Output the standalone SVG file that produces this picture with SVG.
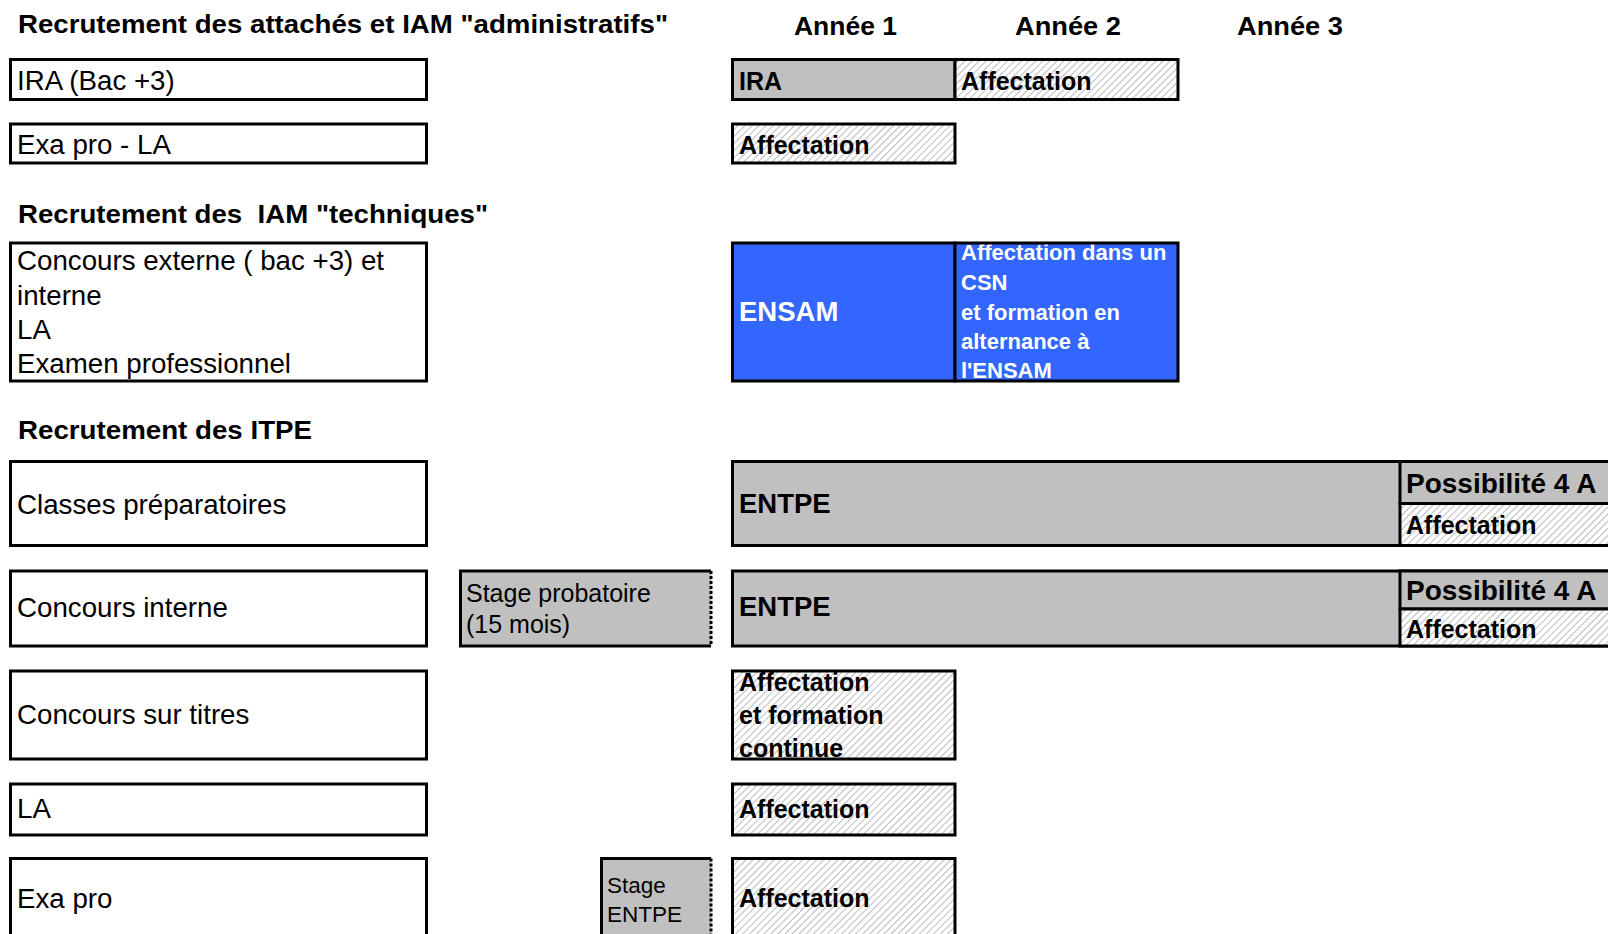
<svg xmlns="http://www.w3.org/2000/svg" width="1608" height="934" viewBox="0 0 1608 934">
<defs>
<pattern id="hatch" width="5" height="5" patternUnits="userSpaceOnUse" patternTransform="rotate(45)">
<rect width="5" height="5" fill="#ffffff"/>
<line x1="0" y1="0" x2="0" y2="5" stroke="#8f8f8f" stroke-width="1.2"/>
</pattern>
<style>
text{font-family:"Liberation Sans",Arial,sans-serif;fill:#000}
.h{font-weight:bold;font-size:25px}
.yr{font-weight:bold;font-size:25px}
.l{font-size:27.7px}
.b{font-weight:bold;font-size:25px}
.bb{font-weight:bold;font-size:27.5px}
.pp{font-weight:bold;font-size:28px}
.w{fill:#fff;font-weight:bold}
.box{fill:#fff;stroke:#000;stroke-width:3}
.gray{fill:#c0c0c0;stroke:#000;stroke-width:3}
.hat{fill:url(#hatch);stroke:#000;stroke-width:3}
.blue{fill:#3366ff;stroke:#000;stroke-width:3}
.edge{fill:none;stroke:#000;stroke-width:3}
.dot{fill:none;stroke:#000;stroke-width:3;stroke-dasharray:3 2}
.s{font-size:25px}
.s2{font-size:22.5px}
</style>
</defs>
<rect width="1608" height="934" fill="#fff"/>

<g id="headers">
<text class="h" x="18" y="33" textLength="650" lengthAdjust="spacingAndGlyphs">Recrutement des attachés et IAM "administratifs"</text>
<text class="h" x="18" y="223" textLength="470" lengthAdjust="spacingAndGlyphs" xml:space="preserve">Recrutement des  IAM "techniques"</text>
<text class="h" x="18" y="439" textLength="294" lengthAdjust="spacingAndGlyphs">Recrutement des ITPE</text>
<text class="yr" x="794" y="35" textLength="103" lengthAdjust="spacingAndGlyphs">Année 1</text>
<text class="yr" x="1015" y="35" textLength="106" lengthAdjust="spacingAndGlyphs">Année 2</text>
<text class="yr" x="1237" y="35" textLength="106" lengthAdjust="spacingAndGlyphs">Année 3</text>
</g>

<!-- Left column -->
<g id="n-ira-bac"><rect class="box" x="10.5" y="59.5" width="416" height="40"/><text class="l" x="17" y="90">IRA (Bac +3)</text></g>
<g id="n-exapro-la"><rect class="box" x="10.5" y="124" width="416" height="39"/><text class="l" x="17" y="154">Exa pro - LA</text></g>
<g id="n-concours-ext"><rect class="box" x="10.5" y="243" width="416" height="138"/>
<text class="l" x="17" y="270">Concours externe ( bac +3) et</text>
<text class="l" x="17" y="304.5">interne</text>
<text class="l" x="17" y="339">LA</text>
<text class="l" x="17" y="373">Examen professionnel</text></g>
<g id="n-classes-prep"><rect class="box" x="10.5" y="461.5" width="416" height="84"/><text class="l" x="17" y="514">Classes préparatoires</text></g>
<g id="n-concours-int"><rect class="box" x="10.5" y="571" width="416" height="75"/><text class="l" x="17" y="617">Concours interne</text></g>
<g id="n-concours-titres"><rect class="box" x="10.5" y="671" width="416" height="88"/><text class="l" x="17" y="724">Concours sur titres</text></g>
<g id="n-la"><rect class="box" x="10.5" y="784" width="416" height="51"/><text class="l" x="17" y="818">LA</text></g>
<g id="n-exapro"><rect class="box" x="10.5" y="858.5" width="416" height="90"/><text class="l" x="17" y="908">Exa pro</text></g>

<!-- Stage boxes -->
<g id="n-stage-prob">
<rect x="460.5" y="571" width="251" height="75" fill="#c0c0c0"/>
<path class="edge" d="M711,571 H460.5 V646 H711"/>
<line class="dot" x1="711" y1="571" x2="711" y2="646"/>
<text class="s" x="466" y="602">Stage probatoire</text>
<text class="s" x="466" y="633">(15 mois)</text>
</g>
<g id="n-stage-entpe">
<rect x="601.5" y="858.5" width="110" height="90" fill="#c0c0c0"/>
<path class="edge" d="M711,858.5 H601.5 V940"/>
<line class="dot" x1="711" y1="858.5" x2="711" y2="940"/>
<text class="s2" x="607" y="893">Stage</text>
<text class="s2" x="607" y="922">ENTPE</text>
</g>

<!-- Right column -->
<g id="n-ira">
<rect class="gray" x="732.5" y="59.5" width="222.5" height="40"/>
<text class="b" x="739" y="90">IRA</text>
</g>
<g id="n-ira-affect">
<rect class="hat" x="955" y="59.5" width="223" height="40"/>
<text class="b" x="961" y="90">Affectation</text>
</g>
<g id="n-exapro-la-affect">
<rect class="hat" x="732.5" y="124" width="222.5" height="39"/>
<text class="b" x="739" y="154">Affectation</text>
</g>
<g id="n-ensam">
<rect class="blue" x="732.5" y="243" width="222.5" height="138"/>
<text class="bb w" x="739" y="321">ENSAM</text>
</g>
<g id="n-csn">
<rect x="955" y="243" width="223" height="138" fill="#3366ff"/>
<g style="font-size:22px">
<text class="w" x="961" y="260">Affectation dans un</text>
<text class="w" x="961" y="289.5">CSN</text>
<text class="w" x="961" y="319.5">et formation en</text>
<text class="w" x="961" y="349">alternance à</text>
<text class="w" x="961" y="378">l'ENSAM</text>
</g>
<rect x="955" y="243" width="223" height="138" fill="none" stroke="#000" stroke-width="3"/>
</g>

<g id="n-entpe-1">
<rect class="gray" x="732.5" y="461.5" width="900" height="84"/>
<text class="bb" x="739" y="513">ENTPE</text>
</g>
<g id="n-poss-1">
<rect class="gray" x="1400" y="461.5" width="230" height="42"/>
<text class="pp" x="1406" y="493">Possibilité 4 A</text>
</g>
<g id="n-affect-1">
<rect class="hat" x="1400" y="503.5" width="230" height="42"/>
<text class="b" x="1406" y="534">Affectation</text>
</g>

<g id="n-entpe-2">
<rect class="gray" x="732.5" y="571" width="900" height="75"/>
<text class="bb" x="739" y="616">ENTPE</text>
</g>
<g id="n-poss-2">
<rect class="gray" x="1400" y="571" width="230" height="38"/>
<text class="pp" x="1406" y="600">Possibilité 4 A</text>
</g>
<g id="n-affect-2">
<rect class="hat" x="1400" y="609" width="230" height="37"/>
<text class="b" x="1406" y="638">Affectation</text>
</g>

<g id="n-affect-titres">
<rect x="732.5" y="671" width="222.5" height="88" fill="url(#hatch)"/>
<text class="b" x="739" y="691">Affectation</text>
<text class="b" x="739" y="724">et formation</text>
<text class="b" x="739" y="757">continue</text>
<rect x="732.5" y="671" width="222.5" height="88" fill="none" stroke="#000" stroke-width="3"/>
</g>
<g id="n-affect-la">
<rect class="hat" x="732.5" y="784" width="222.5" height="51"/>
<text class="b" x="739" y="818">Affectation</text>
</g>
<g id="n-affect-exapro">
<rect class="hat" x="732.5" y="858.5" width="222.5" height="90"/>
<text class="b" x="739" y="907">Affectation</text>
</g>

<g id="connectors"></g>
</svg>
